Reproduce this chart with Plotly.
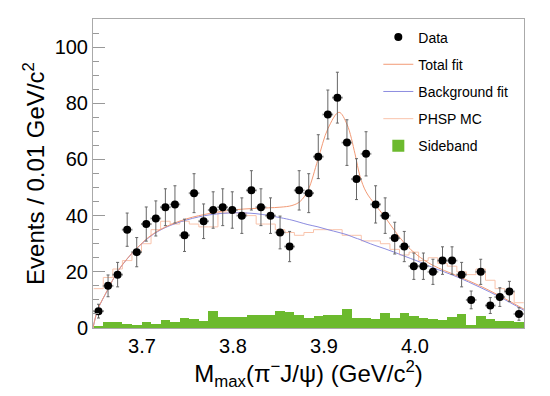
import numpy as np
import plotly.graph_objects as go

# ---------------- data ----------------
bin_lo = 3.647      # lower edge of first bin (GeV/c^2, as drawn on the axis)
bin_w = 0.0105      # bin width as drawn
data_counts = [6, 15, 19, 35, 27, 37, 39, 43, 44, 33, 48, 38, 42, 43, 42, 40, 49, 43, 40, 34,
               29, 49, 48, 61, 76, 82, 66, 53, 62, 44, 40, 32, 29, 22, 22, 20, 24, 24, 19, 10,
               20, 8, 11, 13, 5]
sideband = [0.8, 2, 2, 1.5, 1, 2, 1.5, 2.7, 2.2, 3.5, 3.3, 2.5, 6, 3.8, 3.8, 3.9, 4.6, 4.6, 4.6, 6,
            5.6, 4.8, 3.4, 4.2, 4.5, 4.5, 6.6, 3.6, 3.6, 3.3, 5.2, 3.5, 5.2, 4.2, 3.6, 3.3, 2.8, 4, 5, 1,
            4.2, 3.3, 2.6, 2.4, 2.2]
phsp_mc = [14, 18, 21, 24, 27, 30, 35, 38, 37, 38, 37, 36, 36, 41, 41, 41, 40, 37, 37, 35,
           34, 33, 34, 35, 35, 35, 33, 33, 31, 31, 30, 28, 26, 27, 24, 25, 23, 22, 20, 19,
           21, 17, 14, 13, 9]

fit_x = [3.6462, 3.6516, 3.6626, 3.6725, 3.6835, 3.6934, 3.7088, 3.7253, 3.7495, 3.7747,
         3.7989, 3.8253, 3.8516, 3.8648, 3.8736, 3.8824, 3.8934, 3.9044, 3.9165, 3.9253,
         3.9341, 3.9396, 3.9462, 3.9560, 3.9670, 3.9780, 3.9890, 4.0022, 4.0198, 4.0462,
         4.0714, 4.0934, 4.1198]
bkg_fit = [0, 6.6, 13.7, 19.7, 24.5, 28, 32.5, 35.7, 38.5, 40.3,
           41, 40.7, 39.3, 38.4, 37.6, 36.8, 36, 35, 34, 33.2,
           32.1, 31.5, 30.6, 29.4, 28.2, 26.9, 25.5, 23.9, 21.5, 18.2,
           14.5, 11, 6.3]
total_fit = [0, 6.7, 13.8, 19.8, 24.6, 28.1, 32.7, 35.9, 38.9, 40.8,
             42, 42.6, 43, 43.6, 45, 49, 60, 71, 76.8, 72.5,
             62, 54, 48.5, 44, 39.5, 34.5, 30, 26, 22.3, 18.6,
             15, 11.4, 6.7]

x_ticks = [3.7, 3.8, 3.9, 4.0]
y_ticks = [0, 20, 40, 60, 80, 100]

# ---------------- derived ----------------
n = len(data_counts)
centers = bin_lo + bin_w * (np.arange(n) + 0.5)
edges = bin_lo + bin_w * np.arange(n + 1)
errs = np.sqrt(np.array(data_counts, dtype=float))

FONT = "Liberation Sans, Arial, Helvetica, sans-serif"

fig = go.Figure()

fig.add_trace(go.Bar(
    x=centers, y=sideband, width=bin_w, name="Sideband",
    marker=dict(color="#6cba2e", line=dict(width=0)),
    legendrank=5, legendgroup="e"))

fig.add_trace(go.Scatter(
    x=edges, y=list(phsp_mc) + [phsp_mc[-1]], mode="lines", line_shape="hv",
    line=dict(color="#f9c3ab", width=1), name="PHSP MC",
    legendrank=4, legendgroup="d"))

fig.add_trace(go.Scatter(
    x=fit_x, y=bkg_fit, mode="lines", line_shape="spline",
    line=dict(color="#8c8ce0", width=1), name="Background fit",
    legendrank=3, legendgroup="c"))

fig.add_trace(go.Scatter(
    x=fit_x, y=total_fit, mode="lines", line_shape="spline",
    line=dict(color="#f29a76", width=1), name="Total fit",
    legendrank=2, legendgroup="b"))

fig.add_trace(go.Scatter(
    x=centers, y=data_counts, mode="markers", name="Data",
    marker=dict(color="black", size=8),
    error_y=dict(type="data", array=errs, color="#666666", thickness=1, width=1.5),
    error_x=dict(type="constant", value=bin_w / 2, color="#888888", thickness=1, width=1),
    legendrank=1, legendgroup="a"))

# the page body adds an 8px offset, so the figure is sized to fit the 550x396 window
fig.update_layout(
    width=542, height=388,
    margin=dict(l=85, r=26, t=11, b=68, autoexpand=False),
    paper_bgcolor="white", plot_bgcolor="white",
    font=dict(family=FONT, color="black"),
    showlegend=True,
    bargap=0,
    legend=dict(x=0.662, y=0.992, xanchor="left", yanchor="top",
                bgcolor="rgba(0,0,0,0)", font=dict(size=14, family=FONT),
                tracegroupgap=6, itemwidth=30),
)

fig.update_xaxes(
    range=[3.6462, 4.1198], tickvals=x_ticks, ticktext=["3.7", "3.8", "3.9", "4.0"],
    ticks="", showgrid=False, zeroline=False, automargin=False,
    showline=True, mirror=True, linecolor="#aaaaaa", linewidth=1,
    tickfont=dict(size=20, family=FONT),
    title=dict(text="M<sub>max</sub>(π<sup>−</sup>J/ψ) (GeV/c<sup>2</sup>)",
               font=dict(size=24, family=FONT), standoff=6),
)
fig.update_yaxes(
    range=[0, 110], tickvals=y_ticks, ticks="inside", ticklen=12, tickcolor="#999999",
    minor=dict(dtick=5, ticks="inside", ticklen=6, tickcolor="#999999"),
    showgrid=False, zeroline=False, automargin=False,
    showline=True, mirror=True, linecolor="#aaaaaa", linewidth=1,
    tickfont=dict(size=20, family=FONT),
    title=dict(text="Events / 0.01 GeV/c<sup>2</sup>", font=dict(size=24, family=FONT), standoff=3),
)

fig.write_html("out.html")
